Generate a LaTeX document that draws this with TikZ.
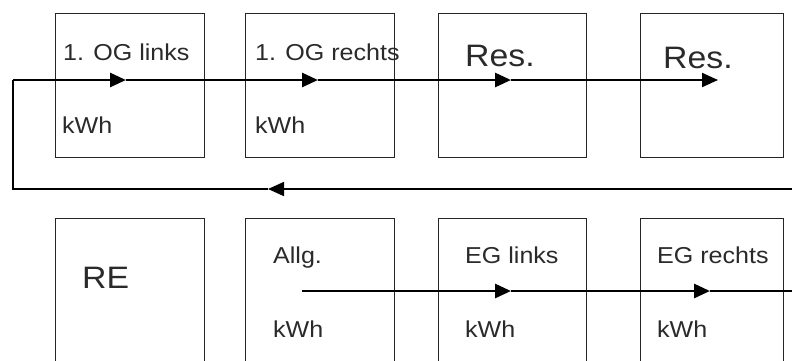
\documentclass[tikz,border=0pt]{standalone}
\usepackage{fontspec}
\setmainfont{Liberation Sans}[FakeStretch=1.09]
\usetikzlibrary{arrows.meta}
\definecolor{txt}{HTML}{2A2A2A}
\begin{document}
\begin{tikzpicture}[x=1pt,y=-1pt,
  box/.style={draw=black!85,line width=1.4pt,anchor=north west,minimum width=149pt,minimum height=144pt,inner sep=0pt},
  lbl/.style={anchor=base west,inner sep=0pt,text=txt,font=\fontsize{23}{27}\selectfont},
  big/.style={anchor=base west,inner sep=0pt,text=txt,font=\fontsize{31}{35}\selectfont},
  flow/.style={line width=2.8pt,-{Triangle[length=16pt,width=14pt]}},
  thin/.style={line width=1.6pt},
  thinflow/.style={line width=1.6pt,-{Triangle[length=16pt,width=14pt]}}]
\useasboundingbox[fill=white] (0,0) rectangle (792,360);
% top row
\node[box] (b1) at (55,13) {};
\node[box] (b2) at (245,13) {};
\node[box,minimum width=148pt] (b3) at (438,13) {};
\node[box,minimum width=143pt] (b4) at (640,13) {};
% bottom row
\node[box,minimum height=160pt] (b5) at (55,218) {};
\node[box,minimum height=160pt] (b6) at (245,218) {};
\node[box,minimum width=148pt,minimum height=160pt] (b7) at (438,218) {};
\node[box,minimum width=143pt,minimum height=160pt] (b8) at (640,218) {};
% labels
\node[lbl] (l1) at (63,60) {1. OG links};
\node[lbl] (l2) at (255,60) {1. OG rechts};
\node[big] (l3) at (465,66) {Res.};
\node[big] (l4) at (663,68) {Res.};
\node[lbl] (k1) at (62,133) {kWh};
\node[lbl] (k2) at (255,133) {kWh};
\node[big] (l5) at (82,288) {RE};
\node[lbl] (l6) at (273,263) {Allg.};
\node[lbl] (l7) at (465,263) {EG links};
\node[lbl] (l8) at (657,263) {EG rechts};
\node[lbl] (k6) at (273,337) {kWh};
\node[lbl] (k7) at (465,337) {kWh};
\node[lbl] (k8) at (657,337) {kWh};
% connector coordinates
\coordinate (t0) at (13,80);
\coordinate (t1) at (126,80);
\coordinate (t2) at (318,80);
\coordinate (t3) at (511,80);
\coordinate (t4) at (718,80);
\coordinate (r0) at (792,189);
\coordinate (r1) at (268,189);
\coordinate (r2) at (13,189);
\coordinate (u0) at (302,291);
\coordinate (u1) at (511,291);
\coordinate (u2) at (710,291);
\coordinate (u3) at (792,291);
% top flow
\draw[flow] (t0) -- (t1);
\draw[flow] (t1) -- (t2);
\draw[flow] (t2) -- (t3);
\draw[flow,line width=2.2pt] (t3) -- (t4);
% return line
\draw[thinflow] (r0) -- (r1);
\draw[thin] (r1) -- (r2) -- (t0);
% bottom flow
\draw[flow] (u0) -- (u1);
\draw[flow] (u1) -- (u2);
\draw[thin] (u2) -- (u3);
\end{tikzpicture}
\end{document}
